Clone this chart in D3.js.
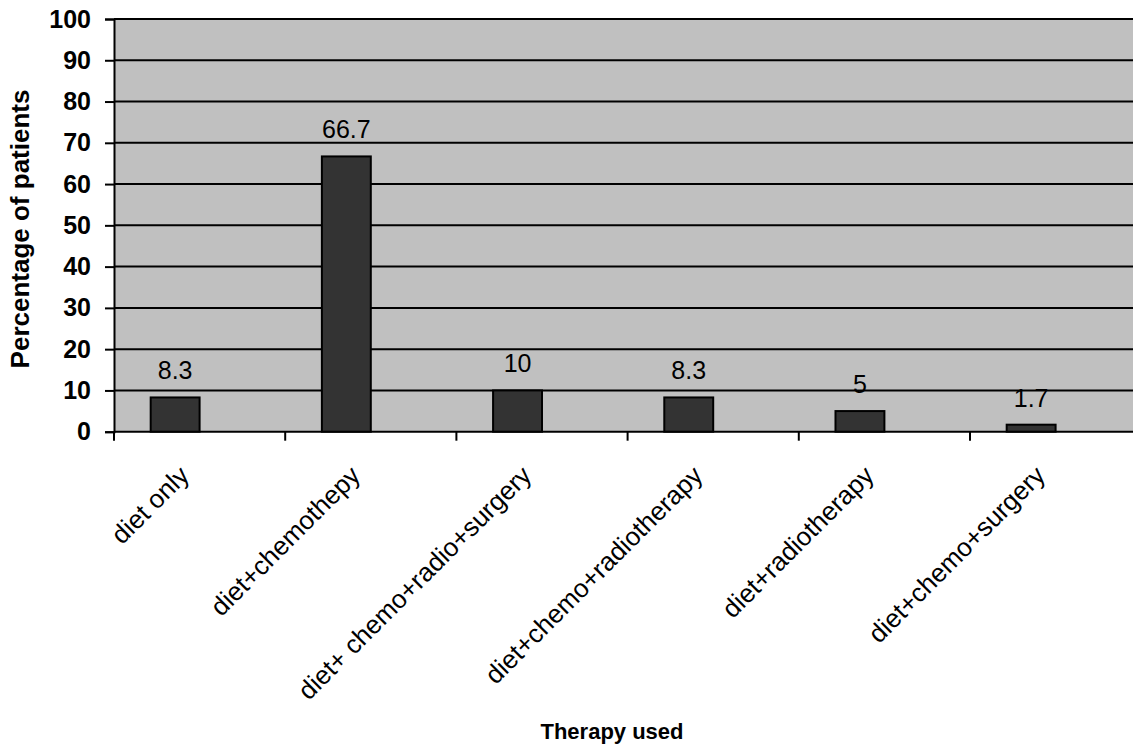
<!DOCTYPE html>
<html>
<head>
<meta charset="utf-8">
<script src="https://cdn.jsdelivr.net/npm/d3@7"></script>
<style>
  body { margin: 0; background: #fff; }
  text { font-family: "Liberation Sans", Arial, sans-serif; }
</style>
</head>
<body>
<div id="chart"></div>
<script>
// data
const categories = ["diet only", "diet+chemothepy", "diet+ chemo+radio+surgery",
                    "diet+chemo+radiotherapy", "diet+radiotherapy", "diet+chemo+surgery"];
const percentages = [8.3, 66.7, 10, 8.3, 5, 1.7];
const valueLabels = ["8.3", "66.7", "10", "8.3", "5", "1.7"];
const yTicks = [0, 10, 20, 30, 40, 50, 60, 70, 80, 90, 100];
// excel chart had a second empty series, so bars sit left in each band
const seriesSlots = ["shown", "empty"];

const W = 1133, H = 748;
const plot = {left: 114, top: 19, bottom: 431.7, step: 171.2};

const svg = d3.select("#chart").append("svg")
    .attr("width", W)
    .attr("height", H);

const x = d3.scaleBand()
    .domain(categories)
    .range([plot.left, plot.left + plot.step * categories.length])
    .padding(0);

const xSlot = d3.scaleBand()
    .domain(seriesSlots)
    .range([0, x.bandwidth()])
    .paddingInner(0)
    .paddingOuter(0.75);

const y = d3.scaleLinear()
    .domain([0, 100])
    .range([plot.bottom, plot.top]);

// plot background
svg.append("rect")
    .attr("x", plot.left)
    .attr("y", y(100))
    .attr("width", x.range()[1] - plot.left)
    .attr("height", y(0) - y(100))
    .attr("fill", "#c0c0c0");

// gridlines
svg.append("g")
  .selectAll("line")
  .data(yTicks)
  .enter().append("line")
    .attr("x1", plot.left)
    .attr("x2", x.range()[1])
    .attr("y1", d => y(d))
    .attr("y2", d => y(d))
    .attr("stroke", "#000")
    .attr("stroke-width", 2);

// y axis
const yAxis = svg.append("g")
    .attr("transform", "translate(" + plot.left + ",0)")
    .call(d3.axisLeft(y).tickValues(yTicks).tickSize(9).tickPadding(14));
yAxis.select(".domain").attr("stroke", "#000").attr("stroke-width", 2);
yAxis.selectAll(".tick line").attr("stroke-width", 2);
yAxis.selectAll(".tick text")
    .style("font-family", "'Liberation Sans', Arial, sans-serif")
    .style("font-size", "25px")
    .style("font-weight", "bold")
    .attr("fill", "#000");

// x axis ticks at band edges
const edges = categories.map(c => x(c)).concat([x.range()[1]]);
svg.append("g")
  .selectAll("line")
  .data(edges)
  .enter().append("line")
    .attr("x1", d => d)
    .attr("x2", d => d)
    .attr("y1", plot.bottom)
    .attr("y2", plot.bottom + 9)
    .attr("stroke", "#000")
    .attr("stroke-width", 2);

// bars
svg.append("g")
  .selectAll("rect")
  .data(percentages)
  .enter().append("rect")
    .attr("x", (d, i) => x(categories[i]) + xSlot("shown"))
    .attr("y", d => y(d))
    .attr("width", xSlot.bandwidth())
    .attr("height", d => y(0) - y(d))
    .attr("fill", "#333333")
    .attr("stroke", "#000")
    .attr("stroke-width", 2);

// value labels
svg.append("g")
  .selectAll("text")
  .data(percentages)
  .enter().append("text")
    .attr("x", (d, i) => x(categories[i]) + xSlot("shown") + xSlot.bandwidth() / 2)
    .attr("y", d => y(d) - 18)
    .attr("text-anchor", "middle")
    .style("font-size", "25px")
    .attr("fill", "#000")
    .text((d, i) => valueLabels[i]);

// category labels, rotated
svg.append("g")
  .selectAll("text")
  .data(categories)
  .enter().append("text")
    .attr("transform", d => "translate(" + (x(d) + x.bandwidth() / 2 - 9) + ",477) rotate(-45)")
    .attr("text-anchor", "end")
    .style("font-size", "26px")
    .attr("fill", "#000")
    .text(d => d);

// axis titles
svg.append("text")
    .attr("x", 612)
    .attr("y", 739)
    .attr("text-anchor", "middle")
    .style("font-size", "22px")
    .style("font-weight", "bold")
    .text("Therapy used");

svg.append("text")
    .attr("transform", "translate(29,229) rotate(-90)")
    .attr("text-anchor", "middle")
    .style("font-size", "26px")
    .style("font-weight", "bold")
    .text("Percentage of patients");
</script>
</body>
</html>
